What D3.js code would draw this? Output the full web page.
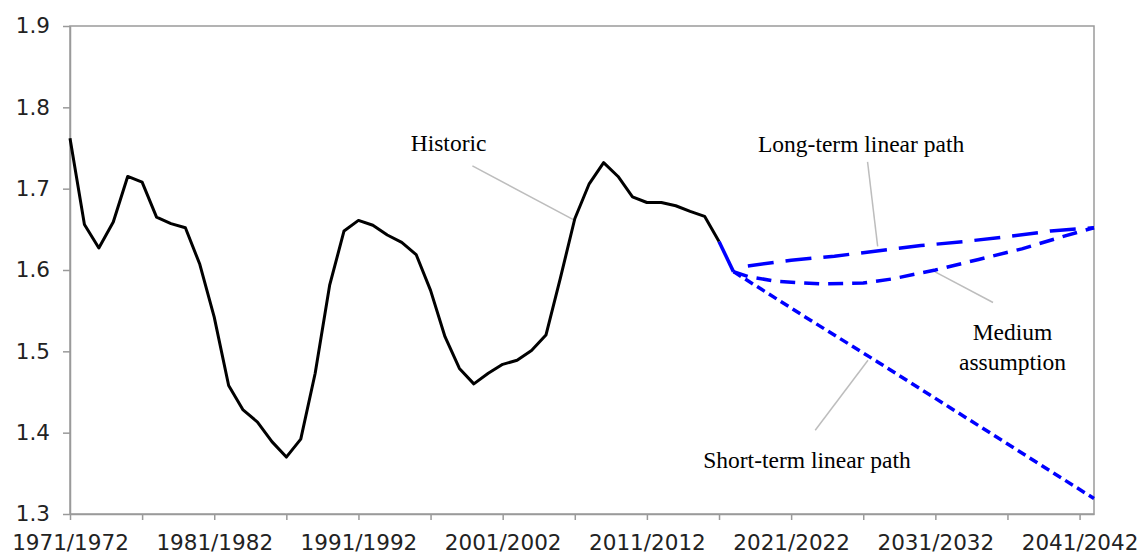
<!DOCTYPE html>
<html>
<head>
<meta charset="utf-8">
<script src="https://cdn.jsdelivr.net/npm/d3@7"></script>
<style>
  body { margin: 0; background: #fff; }
  .tick text { font-family: "DejaVu Sans", Verdana, sans-serif; font-size: 21.5px; fill: #222; }
  .note { font-family: "Liberation Serif", "Times New Roman", serif; font-size: 23.5px; fill: #000; }
</style>
</head>
<body>
<div id="chart"></div>
<script>
/**
 * DATA
 * */
const historicYears = d3.range(1971, 2017);
const historicValues = [
  1.762, 1.656, 1.627, 1.659, 1.715, 1.708, 1.665, 1.657, 1.652, 1.607,
  1.542, 1.458, 1.428, 1.413, 1.389, 1.370, 1.392, 1.473, 1.581, 1.648,
  1.661, 1.655, 1.643, 1.634, 1.619, 1.575, 1.518, 1.479, 1.460, 1.473,
  1.484, 1.489, 1.501, 1.520, 1.590, 1.663, 1.706, 1.732, 1.715, 1.690,
  1.683, 1.683, 1.679, 1.672, 1.666, 1.635
];
const bridgeYears = [2016, 2017];
const bridgeValues = [1.635, 1.598];
const longYears = [2018, 2021, 2024, 2030, 2033, 2036, 2039, 2042];
const longValues = [1.605, 1.612, 1.617, 1.630, 1.635, 1.641, 1.648, 1.652];
const mediumYears = [2017, 2018, 2020, 2023, 2026, 2028, 2031, 2034, 2037, 2040, 2042];
const mediumValues = [1.598, 1.592, 1.586, 1.583, 1.584, 1.589, 1.600, 1.613, 1.626, 1.642, 1.652];
const shortYears = [2017, 2022, 2027, 2032, 2037, 2042];
const shortValues = [1.598, 1.542, 1.487, 1.431, 1.375, 1.319];

const yTicks = [1.3, 1.4, 1.5, 1.6, 1.7, 1.8, 1.9];
const xTickYears = d3.range(1971, 2042, 5);
const xLabelYears = [1971, 1981, 1991, 2001, 2011, 2021, 2031, 2041];

// annotations: label lines + leader from (x1,y1) to (x2,y2), all in data units
const notes = [
  { lines: ["Historic"], x: 1997.25, y: 1.746, x1: 1998.9, y1: 1.728, x2: 2005.9, y2: 1.662 },
  { lines: ["Long-term linear path"], x: 2025.85, y: 1.745, x1: 2026.3, y1: 1.733, x2: 2027.0, y2: 1.629 },
  { lines: ["Medium", "assumption"], x: 2036.35, y: 1.514, x1: 2035.0, y1: 1.560, x2: 2030.95, y2: 1.598 },
  { lines: ["Short-term linear path"], x: 2022.1, y: 1.356, x1: 2022.67, y1: 1.403, x2: 2026.33, y2: 1.489 }
];

/**
 * CONSTANTS
 * */
const width = 1141, height = 554;
const margin = { top: 26, right: 47, bottom: 40, left: 70 };

const svg = d3.select("#chart")
  .append("svg")
  .attr("width", width)
  .attr("height", height);

const xScale = d3.scaleLinear()
  .domain([1971, 2042])
  .range([margin.left, width - margin.right]);

const yScale = d3.scaleLinear()
  .domain([1.3, 1.9])
  .range([height - margin.bottom, margin.top]);

const axisColor = "#9a9a9a";

// frame (top + right)
svg.append("rect")
  .attr("x", xScale(1971))
  .attr("y", yScale(1.9))
  .attr("width", xScale(2042) - xScale(1971))
  .attr("height", yScale(1.3) - yScale(1.9))
  .attr("fill", "none")
  .attr("stroke", axisColor)
  .attr("stroke-width", 1.5);

const yAxis = d3.axisLeft(yScale)
  .tickValues(yTicks)
  .tickFormat(d3.format(".1f"))
  .tickSize(7)
  .tickSizeOuter(0)
  .tickPadding(13);

svg.append("g")
  .attr("class", "y-axis")
  .attr("transform", `translate(${margin.left},0)`)
  .call(yAxis)
  .call(g => g.selectAll("path, line").attr("stroke", axisColor).attr("stroke-width", 1.5));

const xAxis = d3.axisBottom(xScale)
  .tickValues(xTickYears)
  .tickFormat(d => xLabelYears.includes(d) ? `${d}/${d + 1}` : "")
  .tickSize(6)
  .tickSizeOuter(0)
  .tickPadding(15);

svg.append("g")
  .attr("class", "x-axis")
  .attr("transform", `translate(0,${height - margin.bottom})`)
  .call(xAxis)
  .call(g => g.selectAll("path, line").attr("stroke", axisColor).attr("stroke-width", 1.5));

// leader lines
svg.selectAll("line.leader")
  .data(notes)
  .join("line")
  .attr("class", "leader")
  .attr("x1", d => xScale(d.x1))
  .attr("y1", d => yScale(d.y1))
  .attr("x2", d => xScale(d.x2))
  .attr("y2", d => yScale(d.y2))
  .attr("stroke", "#bdbdbd")
  .attr("stroke-width", 1.5);

/**
 * LINES
 * */
const lineFunc = d3.line()
  .x(d => xScale(d[0]))
  .y(d => yScale(d[1]));

const zip = (xs, ys) => xs.map((x, i) => [x, ys[i]]);

const series = [
  { pts: zip(shortYears, shortValues), color: "#0000ff", w: 3.5, dash: "9,5" },
  { pts: zip(mediumYears, mediumValues), color: "#0000ff", w: 3.5, dash: "15,9" },
  { pts: zip(longYears, longValues), color: "#0000ff", w: 3.5, dash: "26,12" },
  { pts: zip(bridgeYears, bridgeValues), color: "#0000ff", w: 3.5, dash: null },
  { pts: zip(historicYears, historicValues), color: "#000", w: 3, dash: null }
];

svg.selectAll("path.trend")
  .data(series)
  .join("path")
  .attr("class", "trend")
  .attr("d", d => lineFunc(d.pts))
  .attr("fill", "none")
  .attr("stroke", d => d.color)
  .attr("stroke-width", d => d.w)
  .attr("stroke-linejoin", "round")
  .attr("stroke-dasharray", d => d.dash);

// annotation text
svg.selectAll("text.note")
  .data(notes)
  .join("text")
  .attr("class", "note")
  .attr("text-anchor", "middle")
  .attr("x", d => xScale(d.x))
  .attr("y", d => yScale(d.y))
  .selectAll("tspan")
  .data(d => d.lines.map((t, i) => ({ t, i, x: d.x })))
  .join("tspan")
  .attr("x", d => xScale(d.x))
  .attr("dy", d => d.i === 0 ? 0 : 30)
  .text(d => d.t);
</script>
</body>
</html>
